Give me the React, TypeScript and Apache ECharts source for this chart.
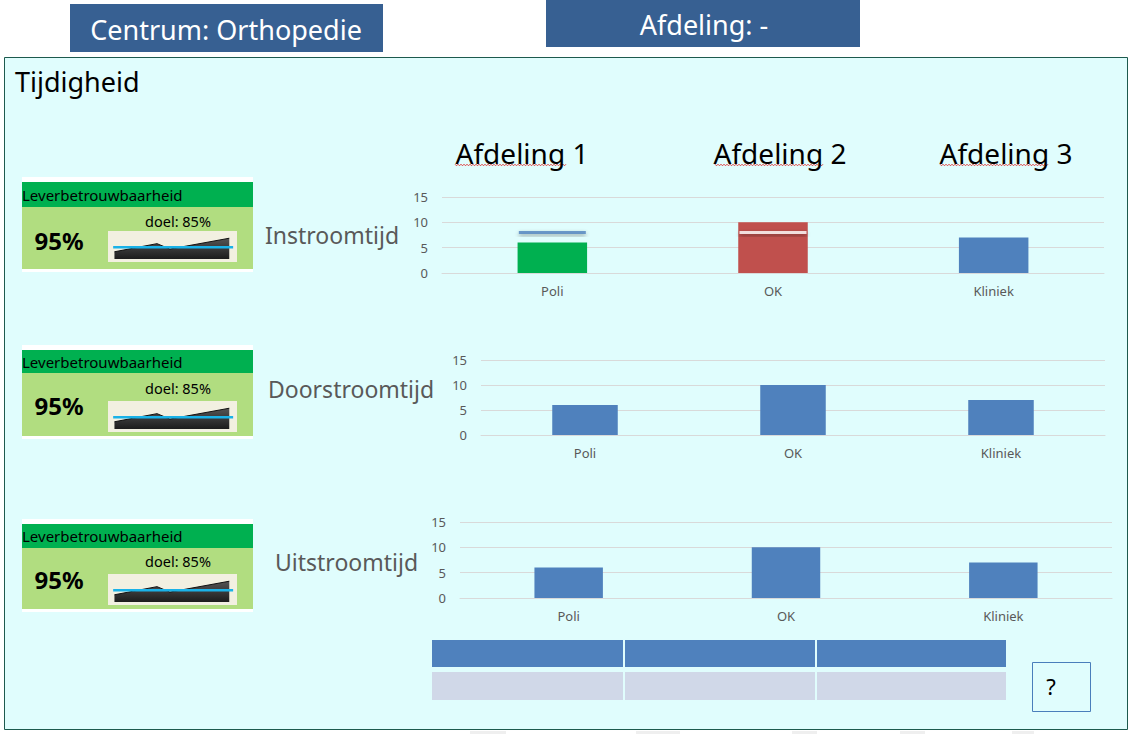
import React, { useEffect, useRef } from 'react';
import * as echarts from 'echarts';

// ---------- data ----------
const categories = ['Poli', 'OK', 'Kliniek'];
const instroomValues = [6, 10, 7];
const instroomTargets: (number | null)[] = [8, 8, null];
const doorstroomValues = [6, 10, 7];
const uitstroomValues = [6, 10, 7];
const instroomColors = ['#00b050', '#c0504d', '#4f81bd'];
const targetColors = ['#4f81bd', '#ffffff', '#4f81bd'];
const rowLabels = ['Instroomtijd', 'Doorstroomtijd', 'Uitstroomtijd'];
const departments = ['Afdeling 1', 'Afdeling 2', 'Afdeling 3'];
const yMin = 0;
const yMax = 15;
const yInterval = 5;
const kpiTitle = 'Leverbetrouwbaarheid';
const kpiValue = '95%';
const kpiGoal = 85;
const sparkX = [5, 38, 48, 94];
const sparkY = [80, 89, 83, 95];
const goalSpan = [4, 97];
const centrumLabel = 'Centrum: Orthopedie';
const afdelingLabel = 'Afdeling: -';
const sectionTitle = 'Tijdigheid';

// ---------- layout ----------
const FONT = '"Noto Sans", "DejaVu Sans", sans-serif';
const BLUE = '#4f81bd';
const GRAY_TEXT = '#595959';
const GRID_LINE = '#d9d9d9';

const barLayouts = [
  { left: 442, top: 197, right: 30, height: 76, labelX: 265, labelY: 235 },
  { left: 481, top: 360, right: 29, height: 75, labelX: 268, labelY: 389 },
  { left: 460, top: 522, right: 22, height: 76, labelX: 275, labelY: 562 },
];
const barData = [instroomValues, doorstroomValues, uitstroomValues];

const kpiLayouts = [
  { top: 182, headerH: 25, bottom: 269, valueY: 240, goalY: 221, sparkTop: 231 },
  { top: 350, headerH: 23, bottom: 436, valueY: 405, goalY: 388, sparkTop: 401 },
  { top: 524, headerH: 24, bottom: 609, valueY: 579, goalY: 561, sparkTop: 574 },
];
const deptLayout = [
  { cx: 522, ulFrom: 455, ulTo: 567 },
  { cx: 780, ulFrom: 715, ulTo: 823 },
  { cx: 1006, ulFrom: 940, ulTo: 1049 },
];
const tableCols = [432, 624, 816, 1006];
const watermarkBits = [
  [470, 36], [636, 44], [792, 25], [900, 25], [1012, 22],
];

function text(x: number, y: number, t: string, size: number, fill: string, align = 'left', weight = 'normal', z = 10) {
  return {
    type: 'text',
    x,
    y,
    z,
    style: {
      text: t,
      fill,
      fontSize: size,
      fontFamily: FONT,
      fontWeight: weight,
      align,
      verticalAlign: 'middle',
      textAlign: align,
      textVerticalAlign: 'middle',
    },
  };
}

function zigzag(from: number, to: number, y: number) {
  const pts: number[][] = [];
  let up = true;
  for (let x = from; x <= to; x += 1.5) {
    pts.push([x, up ? y - 0.8 : y + 0.8]);
    up = !up;
  }
  return {
    type: 'polyline',
    z: 9,
    shape: { points: pts },
    style: { stroke: '#e02020', lineWidth: 0.8, fill: null },
  };
}

function buildOption() {
  const graphic: any[] = [];
  // faint watermark pieces below the panel
  watermarkBits.forEach(([x, w]) => {
    graphic.push({ type: 'rect', z: -11, shape: { x, y: 731, width: w, height: 3 }, style: { fill: '#efefef' } });
  });
  // header boxes
  graphic.push({ type: 'rect', z: -10, shape: { x: 70, y: 4, width: 313, height: 48 }, style: { fill: '#376092' } });
  graphic.push(text(226, 29, centrumLabel, 27, '#ffffff', 'center'));
  graphic.push({ type: 'rect', z: -10, shape: { x: 546, y: 0, width: 314, height: 47 }, style: { fill: '#376092' } });
  graphic.push(text(704, 24, afdelingLabel, 27, '#ffffff', 'center'));
  // main panel
  graphic.push({
    type: 'rect',
    z: -10,
    shape: { x: 4.5, y: 57.5, width: 1123, height: 672 },
    style: { fill: '#e0fdfd', stroke: '#1d5a4e', lineWidth: 1 },
  });
  graphic.push(text(15, 81, sectionTitle, 27, '#000000'));
  // department headers
  departments.forEach((d, i) => {
    const L = deptLayout[i];
    graphic.push(text(L.cx, 153, d, 28, '#000000', 'center'));
    graphic.push(zigzag(L.ulFrom, L.ulTo, 165));
  });
  // row labels
  rowLabels.forEach((r, i) => {
    const L = barLayouts[i];
    graphic.push(text(L.labelX, L.labelY, r, 23, GRAY_TEXT));
  });
  // KPI boxes
  kpiLayouts.forEach((K) => {
    graphic.push({ type: 'rect', z: -6, shape: { x: 22, y: K.top - 5, width: 231, height: K.bottom - K.top + 8 }, style: { fill: '#ffffff' } });
    graphic.push({ type: 'rect', z: -5, shape: { x: 22, y: K.top, width: 231, height: K.headerH }, style: { fill: '#00b050' } });
    graphic.push({ type: 'rect', z: -5, shape: { x: 22, y: K.top + K.headerH, width: 231, height: K.bottom - K.top - K.headerH }, style: { fill: '#b1dd80' } });
    graphic.push({ type: 'rect', z: -4, shape: { x: 108, y: K.sparkTop, width: 129, height: 31 }, style: { fill: '#f2f0e1' } });
    graphic.push(text(22, K.top + K.headerH / 2, kpiTitle, 15, '#000000'));
    graphic.push(text(59, K.valueY, kpiValue, 24, '#000000', 'center', 'bold'));
    graphic.push(text(178, K.goalY, `doel: ${kpiGoal}%`, 14.5, '#000000', 'center'));
  });
  // bottom table
  for (let c = 0; c < 3; c++) {
    const x0 = tableCols[c] + (c > 0 ? 1 : 0);
    const w = tableCols[c + 1] - x0 - (c < 2 ? 1 : 0);
    graphic.push({ type: 'rect', z: -3, shape: { x: x0, y: 640, width: w, height: 27 }, style: { fill: BLUE } });
    graphic.push({ type: 'rect', z: -3, shape: { x: x0, y: 672, width: w, height: 28 }, style: { fill: '#d0d8e8' } });
  }
  // ? box
  graphic.push({ type: 'rect', z: -3, shape: { x: 1032.5, y: 662.5, width: 58, height: 49 }, style: { fill: 'transparent', stroke: '#4a7ebb', lineWidth: 1 } });
  graphic.push(text(1051, 686, '?', 22, '#000000', 'center'));

  const grid: any[] = [];
  const xAxis: any[] = [];
  const yAxis: any[] = [];
  const series: any[] = [];

  barLayouts.forEach((L, i) => {
    grid.push({ left: L.left, top: L.top, right: L.right, height: L.height, containLabel: false });
    xAxis.push({
      type: 'category',
      gridIndex: i,
      data: categories,
      axisLine: { show: true, lineStyle: { color: GRID_LINE } },
      axisTick: { show: false },
      axisLabel: { color: GRAY_TEXT, fontSize: 13, margin: 11, fontFamily: FONT },
    });
    yAxis.push({
      type: 'value',
      gridIndex: i,
      min: yMin,
      max: yMax,
      interval: yInterval,
      axisLine: { show: false },
      axisTick: { show: false },
      axisLabel: { color: GRAY_TEXT, fontSize: 13, margin: 14, fontFamily: FONT },
      splitLine: { lineStyle: { color: GRID_LINE, width: 1 } },
    });
    series.push({
      type: 'bar',
      xAxisIndex: i,
      yAxisIndex: i,
      barWidth: '31.5%',
      data: barData[i].map((v, j) => ({
        value: v,
        itemStyle: { color: i === 0 ? instroomColors[j] : BLUE },
      })),
    });
  });

  series.push({
    type: 'scatter',
    xAxisIndex: 0,
    yAxisIndex: 0,
    symbol: 'rect',
    symbolSize: [67, 3],
    z: 5,
    data: instroomTargets.map((v, j) =>
      v == null
        ? '-'
        : {
            value: v,
            itemStyle: {
              color: targetColors[j],
              shadowBlur: 4,
              shadowColor: 'rgba(0,0,0,0.45)',
              shadowOffsetY: 2,
            },
          }
    ),
  });

  kpiLayouts.forEach((K, k) => {
    const gi = barLayouts.length + k;
    grid.push({ left: 108, top: K.sparkTop, width: 129, height: 28 });
    xAxis.push({ type: 'value', gridIndex: gi, min: 0, max: 100, show: false });
    yAxis.push({ type: 'value', gridIndex: gi, min: 72, max: 103, show: false, splitLine: { show: false } });
    series.push({
      type: 'line',
      xAxisIndex: gi,
      yAxisIndex: gi,
      symbol: 'none',
      data: sparkX.map((x, j) => [x, sparkY[j]]),
      lineStyle: { color: '#111111', width: 1 },
      areaStyle: {
        origin: 'start',
        opacity: 1,
        color: new echarts.graphic.LinearGradient(0, 0, 0, 1, [
          { offset: 0, color: '#555555' },
          { offset: 1, color: '#1c1c1c' },
        ]),
      },
      z: 3,
    });
    series.push({
      type: 'line',
      xAxisIndex: gi,
      yAxisIndex: gi,
      symbol: 'none',
      data: goalSpan.map((x) => [x, kpiGoal]),
      lineStyle: { color: '#1ab2e8', width: 2.5 },
      z: 4,
    });
  });

  return {
    animation: false,
    backgroundColor: '#ffffff',
    textStyle: { fontFamily: FONT },
    graphic,
    grid,
    xAxis,
    yAxis,
    series,
  };
}

export default function App() {
  const ref = useRef<HTMLDivElement>(null);
  useEffect(() => {
    if (!ref.current) return;
    const chart = echarts.init(ref.current, undefined, { renderer: 'svg' });
    chart.setOption(buildOption() as any);
    return () => chart.dispose();
  }, []);
  return (
    <div
      ref={ref}
      style={{ position: 'fixed', left: 0, top: 0, width: 1134, height: 734, background: '#ffffff' }}
    />
  );
}
